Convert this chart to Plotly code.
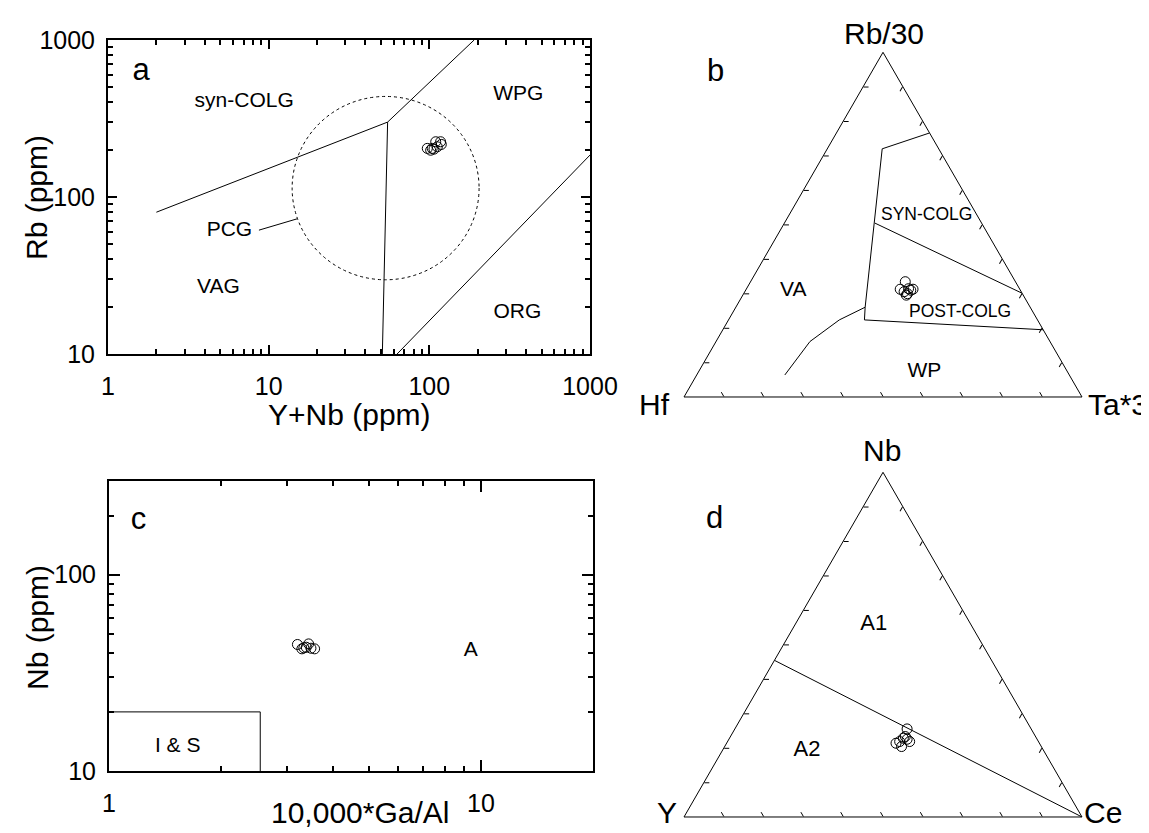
import plotly.graph_objects as go

W, H = 1149, 833
FONT = "Liberation Sans, Arial, sans-serif"

# ---------------- Panel a : Rb vs Y+Nb (Pearce et al.) ----------------
a_samples_x = [97.1, 101.9, 106.9, 112.1, 109.6, 117.5, 118.7, 104.2]
a_samples_y = [204, 198.6, 201.7, 208.9, 224.9, 224.9, 216.2, 204]
a_syn_vag_x = [2, 55]
a_syn_vag_y = [80, 300]
a_syn_wpg_x = [55, 190]
a_syn_wpg_y = [300, 1000]
a_vag_wpg_x = [55, 51]
a_vag_wpg_y = [300, 10]
a_wpg_org_x = [63, 1000]
a_wpg_org_y = [10, 185]
a_pcg_leader_x = [8.7, 15.1]
a_pcg_leader_y = [61.5, 72.7]
a_pcg_x = [14.0, 204.0]     # PCG circle bounds
a_pcg_y = [29.7, 437.0]
a_labels = ["syn-COLG", "WPG", "PCG", "VAG", "ORG"]
a_labels_x = [7.04, 358, 5.70, 4.87, 353]
a_labels_y = [407, 448, 60.7, 26.3, 18.2]

# ---------------- Panel c : Nb vs 10000*Ga/Al (Whalen et al.) ----------------
c_samples_x = [3.21, 3.30, 3.39, 3.44, 3.49, 3.57, 3.34]
c_samples_y = [44.1, 41.9, 42.7, 44.4, 42.2, 41.9, 42.4]
c_is_box_x = [1, 2.55, 2.55]
c_is_box_y = [20, 20, 10]
c_labels = ["I & S", "A"]
c_labels_x = [1.53, 9.38]
c_labels_y = [13.3, 40.8]

# ---------------- Panel b : Rb/30 - Hf - Ta*3 (Harris et al.) ----------------
b_line1_a = [0.766, 0.720, 0.2605, 0.2236, 0.195]
b_line1_b = [0.0, 0.142, 0.4147, 0.4348, 0.0]
b_line1_c = [0.234, 0.138, 0.325, 0.3416, 0.805]
b_line2_a = [0.5044, 0.301]
b_line2_b = [0.268, 0.0]
b_line2_c = [0.2274, 0.699]
b_line3_a = [0.2605, 0.2236, 0.1609, 0.0639]
b_line3_b = [0.4147, 0.498, 0.603, 0.7147]
b_line3_c = [0.325, 0.2784, 0.236, 0.2214]
b_samples_a = [0.3345, 0.3127, 0.3055, 0.2997, 0.3098, 0.3127, 0.3142, 0.2954]
b_samples_b = [0.2768, 0.3004, 0.2942, 0.2887, 0.2753, 0.2682, 0.2787, 0.2936]
b_samples_c = [0.3887, 0.3869, 0.4003, 0.4116, 0.4149, 0.4191, 0.4071, 0.4110]
b_labels = ["SYN-COLG", "POST-COLG", "VA", "WP"]
b_labels_a = [0.5267, 0.246, 0.3078, 0.0738]
b_labels_b = [0.1269, 0.1834, 0.5715, 0.3589]
b_labels_c = [0.3464, 0.5706, 0.1207, 0.5673]
b_labels_size = [17.5, 17.5, 21, 21]

# ---------------- Panel d : Nb - Y - Ce (Eby) ----------------
d_line_a = [0.4545, 0.0]
d_line_b = [0.5455, 0.0]
d_line_c = [0.0, 1.0]
d_samples_a = [0.2555, 0.214, 0.2189, 0.2285, 0.2256, 0.2189, 0.2044, 0.2334]
d_samples_b = [0.3117, 0.3603, 0.3487, 0.3347, 0.3266, 0.3236, 0.3512, 0.3274]
d_samples_c = [0.4328, 0.4257, 0.4324, 0.4368, 0.4478, 0.4575, 0.4444, 0.4392]
d_labels = ["A1", "A2"]
d_labels_a = [0.5575, 0.1916]
d_labels_b = [0.2444, 0.595]
d_labels_c = [0.1981, 0.2134]

# tick values
log_minor = [2, 3, 4, 5, 6, 7, 8, 9, 20, 30, 40, 50, 60, 70, 80, 90,
             200, 300, 400, 500, 600, 700, 800, 900]


def px_x(p):
    return p / W


def px_y(p):
    return 1 - p / H


line_style = dict(color="black", width=1)
marker_style = dict(symbol="circle-open", size=10, color="black", line=dict(width=1, color="black"))

fig = go.Figure()

# ---- panel a traces
for xs, ys in [(a_syn_vag_x, a_syn_vag_y), (a_syn_wpg_x, a_syn_wpg_y),
               (a_vag_wpg_x, a_vag_wpg_y), (a_wpg_org_x, a_wpg_org_y),
               (a_pcg_leader_x, a_pcg_leader_y)]:
    fig.add_trace(go.Scatter(x=xs, y=ys, mode="lines", line=line_style,
                             xaxis="x", yaxis="y", hoverinfo="skip"))
fig.add_trace(go.Scatter(x=a_samples_x, y=a_samples_y, mode="markers", marker=marker_style,
                         xaxis="x", yaxis="y"))
fig.add_trace(go.Scatter(x=a_labels_x, y=a_labels_y, mode="text", text=a_labels,
                         textfont=dict(family=FONT, size=21, color="black"),
                         xaxis="x", yaxis="y", cliponaxis=False, hoverinfo="skip"))
fig.add_trace(go.Scatter(x=[1.61], y=[626], mode="text", text=["a"],
                         textfont=dict(family=FONT, size=31, color="black"),
                         xaxis="x", yaxis="y", cliponaxis=False, hoverinfo="skip"))

# ---- panel c traces
fig.add_trace(go.Scatter(x=c_is_box_x, y=c_is_box_y, mode="lines", line=line_style,
                         xaxis="x2", yaxis="y2", hoverinfo="skip"))
fig.add_trace(go.Scatter(x=c_samples_x, y=c_samples_y, mode="markers", marker=marker_style,
                         xaxis="x2", yaxis="y2"))
fig.add_trace(go.Scatter(x=c_labels_x, y=c_labels_y, mode="text", text=c_labels,
                         textfont=dict(family=FONT, size=21, color="black"),
                         xaxis="x2", yaxis="y2", cliponaxis=False, hoverinfo="skip"))
fig.add_trace(go.Scatter(x=[1.2], y=[187], mode="text", text=["c"],
                         textfont=dict(family=FONT, size=31, color="black"),
                         xaxis="x2", yaxis="y2", cliponaxis=False, hoverinfo="skip"))

# ---- panel b traces
for aa, bb, cc in [(b_line1_a, b_line1_b, b_line1_c), (b_line2_a, b_line2_b, b_line2_c),
                   (b_line3_a, b_line3_b, b_line3_c)]:
    fig.add_trace(go.Scatterternary(a=aa, b=bb, c=cc, mode="lines", line=line_style,
                                    subplot="ternary", hoverinfo="skip"))
fig.add_trace(go.Scatterternary(a=b_samples_a, b=b_samples_b, c=b_samples_c, mode="markers",
                                marker=marker_style, subplot="ternary"))
fig.add_trace(go.Scatterternary(a=b_labels_a, b=b_labels_b, c=b_labels_c, mode="text",
                                text=b_labels, cliponaxis=False,
                                textfont=dict(family=FONT, size=b_labels_size, color="black"),
                                subplot="ternary", hoverinfo="skip"))

# ---- panel d traces
fig.add_trace(go.Scatterternary(a=d_line_a, b=d_line_b, c=d_line_c, mode="lines", line=line_style,
                                subplot="ternary2", hoverinfo="skip"))
fig.add_trace(go.Scatterternary(a=d_samples_a, b=d_samples_b, c=d_samples_c, mode="markers",
                                marker=marker_style, subplot="ternary2"))
fig.add_trace(go.Scatterternary(a=d_labels_a, b=d_labels_b, c=d_labels_c, mode="text",
                                text=d_labels, cliponaxis=False,
                                textfont=dict(family=FONT, size=22, color="black"),
                                subplot="ternary2", hoverinfo="skip"))


def log_axis(domain, rng, ticks_shown, anchor, standoff, major_len):
    return dict(
        type="log", domain=domain, range=rng, anchor=anchor,
        showline=True, linecolor="black", linewidth=2, mirror="allticks",
        ticks="inside", ticklen=major_len, tickwidth=1.5, tickcolor="black",
        tickmode="array", tickvals=ticks_shown, ticktext=[str(v) for v in ticks_shown],
        minor=dict(tickmode="array", tickvals=log_minor, ticks="inside", ticklen=5,
                   tickwidth=1.5, tickcolor="black", showgrid=False),
        showgrid=False, zeroline=False, automargin=False,
        tickfont=dict(family=FONT, size=25, color="black"),
        ticklabelstandoff=standoff,
    )


tern_axis = dict(showgrid=False, showticklabels=False, ticks="inside", ticklen=5,
                 tickwidth=1, tickcolor="black", linecolor="black", linewidth=1,
                 tick0=0, dtick=0.1, title=dict(text=""))

fig.update_layout(
    width=W, height=H,
    margin=dict(l=0, r=0, t=0, b=0),
    paper_bgcolor="white", plot_bgcolor="white",
    showlegend=False,
    font=dict(family=FONT, color="black"),
    xaxis=log_axis([px_x(100), px_x(582)], [0, 3], [1, 10, 100, 1000], "y", 9, 9),
    yaxis=log_axis([px_y(346), px_y(32)], [1, 3], [10, 100, 1000], "x", 6, 9),
    xaxis2=log_axis([px_x(101), px_x(585)], [0, 1.30103], [1, 10], "y2", 9, 11),
    yaxis2=log_axis([px_y(763), px_y(473)], [1, 2.4771], [10, 100], "x2", 6, 11),
    ternary=dict(domain=dict(x=[px_x(676), px_x(1074)], y=[px_y(389), px_y(44.3)]),
                 sum=1, bgcolor="white",
                 aaxis=tern_axis, baxis=tern_axis, caxis=tern_axis),
    ternary2=dict(domain=dict(x=[px_x(676), px_x(1074)], y=[px_y(809), px_y(464.3)]),
                  sum=1, bgcolor="white",
                  aaxis=tern_axis, baxis=tern_axis, caxis=tern_axis),
    shapes=[dict(type="circle", xref="x", yref="y",
                 x0=a_pcg_x[0], x1=a_pcg_x[1], y0=a_pcg_y[0], y1=a_pcg_y[1],
                 line=dict(color="black", width=1, dash="dot"), layer="above")],
)

ann = []


def add_text(text, x, y, size, angle=0):
    ann.append(dict(text=text, x=px_x(x), y=px_y(y), xref="paper", yref="paper",
                    showarrow=False, xanchor="center", yanchor="middle", textangle=angle,
                    font=dict(family=FONT, size=size, color="black")))


# axis titles
add_text("Rb (ppm)", 28, 190, 30, -90)
add_text("Y+Nb (ppm)", 341, 406, 30)
add_text("Nb (ppm)", 29, 620, 30, -90)
add_text("10,000*Ga/Al", 352, 804, 30)
# ternary vertex labels
add_text("Rb/30", 876, 25, 30)
add_text("Hf", 646, 396, 30)
add_text("Ta*3", 1110, 396, 30)
add_text("Nb", 874, 443, 30)
add_text("Y", 659, 804, 30)
add_text("Ce", 1095, 804, 30)
# panel letters
add_text("b", 707, 62, 31)
add_text("d", 706, 509, 31)

fig.update_layout(annotations=ann)

fig.write_html("out.html")
